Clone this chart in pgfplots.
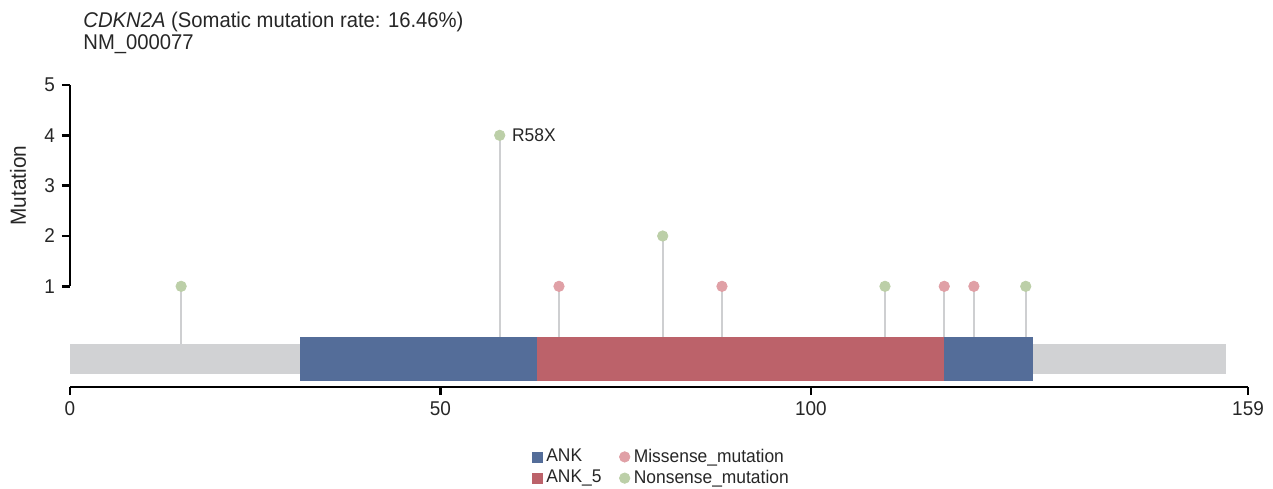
\documentclass[border=0pt]{standalone}
\usepackage{fontspec}
\setmainfont{Liberation Sans}[FakeStretch=0.95]
\usepackage{pgfplots}
\pgfplotsset{compat=1.18}
\definecolor{ankblue}{RGB}{84,109,153}
\definecolor{ankred}{RGB}{188,98,106}
\definecolor{backbone}{RGB}{209,210,212}
\definecolor{stem}{RGB}{206,207,209}
\definecolor{missense}{RGB}{224,160,166}
\definecolor{nonsense}{RGB}{188,207,168}
\begin{document}
\begin{tikzpicture}
\path[use as bounding box] (-35bp,-51bp) rectangle (601.5bp,193.5bp);
\begin{axis}[
  at={(0,0)}, anchor=south west,
  scale only axis, width=589bp, height=151bp,
  xmin=0, xmax=159, ymin=-1, ymax=5,
  clip=false,
  axis lines*=left,
  x axis line style={line width=1.4bp, black},
  y axis line style={draw=none},
  xtick={0,50,100,159}, ytick={1,2,3,4,5},
  tick align=outside, major tick length=4bp,
  tick style={black, line width=1.2bp},
  /pgf/number format/assume math mode=true,
  ticklabel style={font=\fontsize{10}{12}\selectfont, text=black!85},
  legend columns=2,
  legend style={at={(0.503,-0.19)}, anchor=north, draw=none, fill=none,
    font=\fontsize{9.2}{10.8}\selectfont, text=black!85,
    /tikz/every even column/.append style={column sep=7bp},
    row sep=-1.5bp, inner sep=0pt},
  legend cell align=left,
]
% stems
\addplot[stem, line width=1.1bp, unbounded coords=jump, forget plot] coordinates {
 (15,-0.3) (15,1) (nan,nan)
 (58,-0.3) (58,4) (nan,nan)
 (66,-0.3) (66,1) (nan,nan)
 (80,-0.3) (80,2) (nan,nan)
 (88,-0.3) (88,1) (nan,nan)
 (110,-0.3) (110,1) (nan,nan)
 (118,-0.3) (118,1) (nan,nan)
 (122,-0.3) (122,1) (nan,nan)
 (129,-0.3) (129,1)
};
% backbone
\addplot[fill=backbone, draw=none, forget plot] coordinates {(0,-0.15) (156,-0.15) (156,-0.75) (0,-0.75)} -- cycle;
% domains
\addplot[fill=ankblue, draw=none, forget plot] coordinates {(31,-0.01) (63,-0.01) (63,-0.89) (31,-0.89)} -- cycle;
\addplot[fill=ankred, draw=none, forget plot] coordinates {(63,-0.01) (118,-0.01) (118,-0.89) (63,-0.89)} -- cycle;
\addplot[fill=ankblue, draw=none, forget plot] coordinates {(118,-0.01) (130,-0.01) (130,-0.89) (118,-0.89)} -- cycle;
% dots
\addplot[only marks, mark=*, mark size=2.6bp, color=nonsense, forget plot] coordinates {(15,1) (58,4) (80,2) (110,1) (129,1)};
\addplot[only marks, mark=*, mark size=2.6bp, color=missense, forget plot] coordinates {(66,1) (88,1) (118,1) (122,1)};
% y axis spine from 1 to 5
\draw[line width=1.4bp, black] (axis cs:0,1) -- (axis cs:0,5);
\node[anchor=west, font=\fontsize{9.2}{11}\selectfont, text=black!85, inner sep=0pt] at ([xshift=6bp]axis cs:58,4) {R58X};
\node[rotate=90, anchor=center, font=\fontsize{11}{13}\selectfont, text=black!85] at ([xshift=-26bp]axis cs:0,3) {Mutation};
% legend
\addlegendimage{only marks, mark=square*, mark size=2.5bp, color=ankblue}
\addlegendentry{ANK}
\addlegendimage{only marks, mark=*, mark size=2.6bp, color=missense}
\addlegendentry{Missense\_mutation}
\addlegendimage{only marks, mark=square*, mark size=2.5bp, color=ankred}
\addlegendentry{ANK\_5}
\addlegendimage{only marks, mark=*, mark size=2.6bp, color=nonsense}
\addlegendentry{Nonsense\_mutation}
\end{axis}
\node[anchor=base west, inner sep=0pt, font=\fontsize{10.7}{12}\selectfont, text=black!85] at (6.5bp,179.5bp) {\textit{CDKN2A} (Somatic mutation rate: 16.46\%)};
\node[anchor=base west, inner sep=0pt, font=\fontsize{10.7}{12}\selectfont, text=black!85] at (6.5bp,168.5bp) {NM\_000077};
\end{tikzpicture}
\end{document}
